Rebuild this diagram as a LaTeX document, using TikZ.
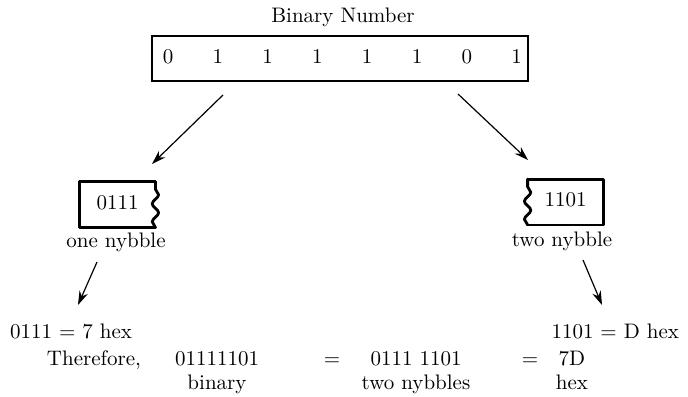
\documentclass[tikz,border=0pt]{standalone}
\usepackage{tikz}
\usetikzlibrary{arrows.meta, positioning, decorations.pathmorphing}
\tikzstyle{bitrow} = [rectangle, minimum width=188pt, minimum height=22.5pt, draw=black, line width=1.2pt]
\tikzstyle{digit} = [inner sep=0pt, text centered]
\tikzstyle{nybble} = [rectangle, minimum width=37.5pt, minimum height=22.5pt, inner sep=0pt]
\tikzstyle{boxline} = [line width=1.4pt, line cap=round, line join=round]
\tikzstyle{wavy} = [decorate, decoration={snake, amplitude=1.6pt, segment length=9pt}]
\tikzstyle{arrow} = [line width=0.6pt, -{Stealth[length=7pt, width=4.5pt]}]

\begin{document}
\begin{tikzpicture}[x=0.5pt, y=-0.5pt, node distance=12pt, font=\fontsize{10.5}{12}\selectfont,
  every node/.style={text height=1.6ex, text depth=0.5ex}]
\useasboundingbox (0,0) rectangle (688,396);
\node (title) at (343,18) {Binary Number};
\node (bits) [bitrow] at (340,58.5) {};
\node (d1) [digit] at (168,59) {0};
\node (d2) [digit, right of=d1, xshift=12.9pt] {1};
\node (d3) [digit, right of=d2, xshift=12.9pt] {1};
\node (d4) [digit, right of=d3, xshift=12.9pt] {1};
\node (d5) [digit, right of=d4, xshift=12.9pt] {1};
\node (d6) [digit, right of=d5, xshift=12.9pt] {1};
\node (d7) [digit, right of=d6, xshift=12.9pt] {0};
\node (d8) [digit, right of=d7, xshift=12.9pt] {1};

% the two halves
\node (lo) [nybble] at (117.5,204.5) {0111};
\draw[boxline] (lo.north east) -- (lo.north west) -- (lo.south west) -- (lo.south east);
\draw[boxline, wavy] (lo.south east) -- (lo.north east);
\node (hi) [nybble] at (565.5,202) {1101};
\draw[boxline] (hi.north west) -- (hi.north east) -- (hi.south east) -- (hi.south west);
\draw[boxline, wavy] (hi.south west) -- (hi.north west);
\node (lolab) at (116,243) {one nybble};
\node (hilab) at (562,242) {two nybble};

\node (lohex) [anchor=west] at (3,334) {0111 = 7 hex};
\node (hihex) [anchor=east] at (686,334) {1101 = D hex};
\node (there) at (94,361) {Therefore,};
\node (binval) at (217,361) {01111101};
\node (binlab) [below of=binval, yshift=0pt] {binary};
\node (eq1) at (332,361) {=};
\node (twoval) at (416,361) {0111 1101};
\node (twolab) [below of=twoval, yshift=0pt] {two nybbles};
\node (eq2) at (530,361) {=};
\node (hexval) at (572,361) {7D};
\node (hexlab) [below of=hexval, yshift=0pt] {hex};

\coordinate (a1s) at (223,95);
\coordinate (a1e) at (152,164);
\coordinate (a2s) at (458,94);
\coordinate (a2e) at (528,160);
\coordinate (a3s) at (97,262);
\coordinate (a3e) at (78,305);
\coordinate (a4s) at (583,260);
\coordinate (a4e) at (602,305);
\draw[arrow] (a1s) -- (a1e);
\draw[arrow] (a2s) -- (a2e);
\draw[arrow] (a3s) -- (a3e);
\draw[arrow] (a4s) -- (a4e);
\end{tikzpicture}
\end{document}
